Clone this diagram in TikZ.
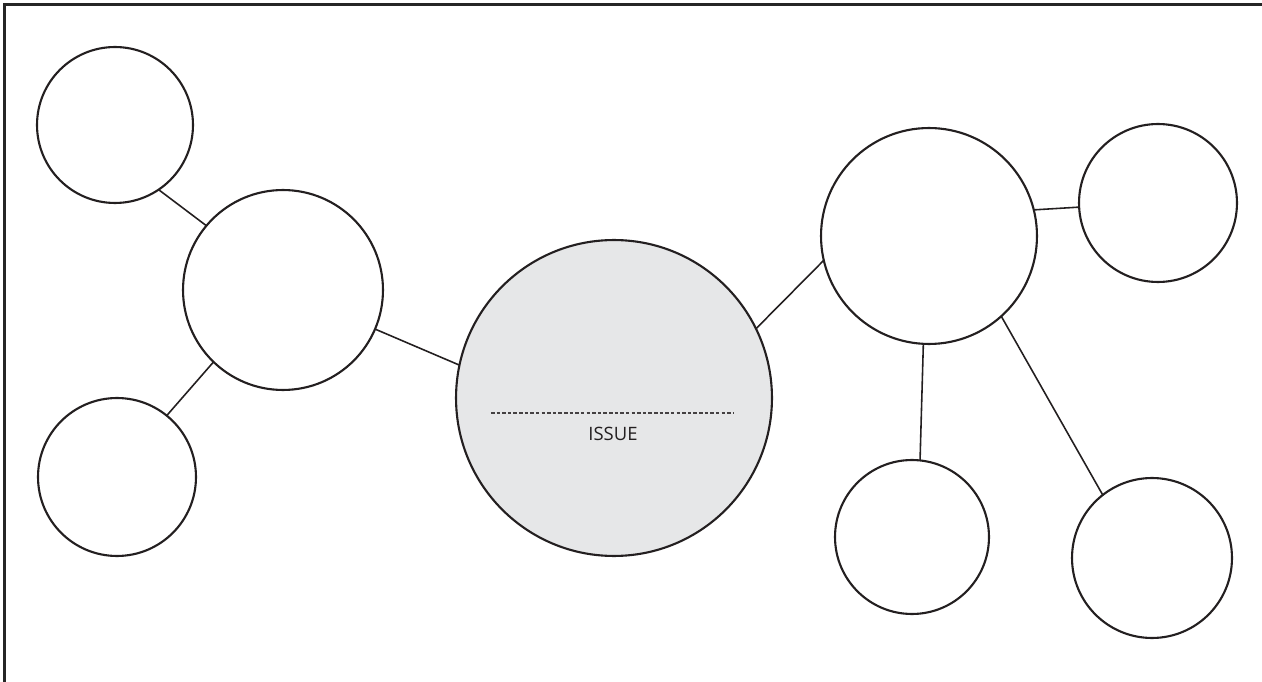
\documentclass[tikz,border=0pt]{standalone}
\usepackage{fontspec}
\setmainfont{Open Sans}
\definecolor{inkgray}{HTML}{231F20}
\definecolor{issuegray}{HTML}{E6E7E8}

\begin{document}
\begin{tikzpicture} [x = 0.02cm, y = -0.02cm,
  bubble/.style = {circle, draw = inkgray, line width = 1.2pt, fill = white, inner sep = 0pt, outer sep = 0pt},
  link/.style = {draw = inkgray, line width = 0.9pt}]
\useasboundingbox (0, 0) rectangle (1262, 682);
\draw[black!85, line width = 1.4pt] (4.5, 682) -- (4.5, 4.5) -- (1262, 4.5);
\node[bubble, minimum size = 3.12cm] (c1) at (115, 125){};
\node[bubble, minimum size = 4.00cm] (c2) at (283, 290){};
\node[bubble, minimum size = 3.16cm] (c3) at (117, 477){};
\node[bubble, minimum size = 6.32cm, fill = issuegray] (c4) at (614, 398){};
\node[bubble, minimum size = 4.32cm] (c5) at (929, 236){};
\node[bubble, minimum size = 3.16cm] (c6) at (1158, 203){};
\node[bubble, minimum size = 3.08cm] (c7) at (912, 537){};
\node[bubble, minimum size = 3.20cm] (c8) at (1152, 558){};
\draw[link] (c1.-56.6) -- (c2.140.9);
\draw[link] (c2.226.1) -- (c3.51.3);
\draw[link] (c2.-23.3) -- (c4.168.6);
\draw[link] (c4.26.0) -- (c5.193.8);
\draw[link] (c5.14.3) -- (c6.183.2);
\draw[link] (c5.267.3) -- (c7.84.5);
\draw[link] (c5.-48.9) -- (c8.128.9);
\coordinate (d1) at (491, 413);
\coordinate (d2) at (734, 413);
\draw[inkgray!85, line width = 0.6pt, dash pattern = on 2pt off 1.2pt] (d1) -- (d2);
\node[text = inkgray, font = \fontsize{10.5}{12}\selectfont] (issue) at (613, 434){ISSUE};
\end{tikzpicture}
\end{document}
